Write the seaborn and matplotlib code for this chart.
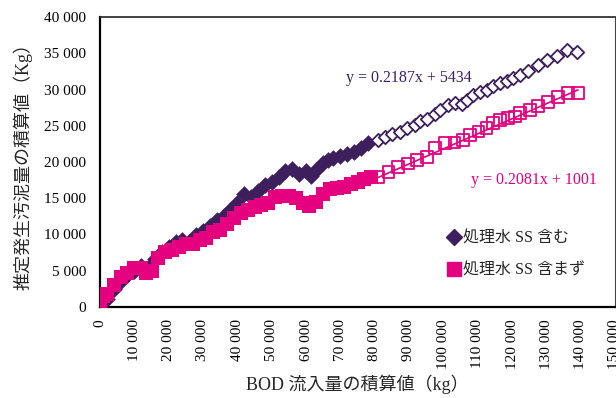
import matplotlib
matplotlib.use("Agg")
import matplotlib.pyplot as plt
import numpy as np
import pandas as pd
import seaborn as sns
from matplotlib.lines import Line2D
from matplotlib.ticker import FuncFormatter, MultipleLocator

# Cumulative BOD inflow (kg) vs. cumulative estimated sludge (kg)
# Series A: treated-water SS included
incl_x_early = [0, 2000, 4000, 6000, 8000, 10000, 12000, 14000, 16000, 18000,
                20000, 22000, 24000, 26000, 28000, 30000, 32000, 34000, 36000, 38000,
                40000, 42000, 44000, 46000, 48000, 50000, 52000, 54000, 56000, 58000,
                60000, 61500, 63000, 65000, 66500, 68000, 70000, 72000, 74000, 76000, 78000]
incl_y_early = [0, 1000, 2500, 3600, 4400, 5000, 5600, 5300, 6600, 7600,
                8300, 8900, 9200, 8900, 9900, 10500, 11200, 12000, 12500, 13400,
                14300, 15600, 15200, 16000, 16800, 17300, 17900, 18700, 19000, 18400,
                18800, 18000, 18900, 19800, 20300, 20500, 20800, 21100, 21400, 21900, 22600]
incl_x_late = [81100, 83000, 85000, 87400, 89500, 91800, 93200, 95100, 97600, 99000,
               101500, 103400, 105500, 107000, 108700, 110700, 112600, 114600, 116500, 118500,
               120400, 122300, 124800, 127700, 130100, 133000, 135900, 138800]
incl_y_late = [23000, 23500, 23900, 24200, 24700, 25100, 25600, 25900, 26700, 27200,
               27900, 28100, 28000, 28600, 29200, 29700, 30000, 30500, 30900, 31200,
               31600, 32000, 32600, 33400, 34100, 34600, 35500, 35200]

# Series B: treated-water SS excluded
excl_x_early = [0, 1000, 2000, 4000, 6000, 8000, 10000, 12000, 13500, 15000,
                17000, 19000, 21000, 23000, 25000, 27000, 29000, 31000, 33000, 35000,
                37000, 39000, 41000, 43000, 45000, 47000, 49000, 51000, 53000, 55000,
                57000, 59000, 61000, 63000, 65000, 67000, 69000, 71000, 73000, 75000,
                77000, 79000]
excl_y_early = [0, 1500, 1800, 3000, 4100, 4700, 5300, 5400, 4600, 5000,
                6800, 7500, 7900, 8200, 8600, 8700, 9200, 9500, 10300, 10600,
                11400, 12200, 13000, 13400, 13800, 14000, 14400, 15100, 15300, 15300,
                15000, 14300, 13900, 14500, 15600, 16200, 16400, 16600, 17000, 17300,
                17600, 17900]
excl_x_late = [81000, 84000, 86800, 89700, 92300, 95200, 97600, 100500, 103200, 105800,
               107800, 110200, 112600, 114500, 116500, 118900, 120900, 122300, 125300, 127600,
               130500, 133400, 136300, 139200]
excl_y_late = [17900, 18600, 19300, 19800, 20300, 20700, 21900, 22600, 22700, 23000,
               23700, 24200, 24700, 25400, 25800, 26100, 26300, 26800, 27200, 27700,
               28300, 29000, 29500, 29500]

# Linear trend coefficients (fit over the later period)
incl_slope, incl_icpt = 0.2187, 5434
excl_slope, excl_icpt = 0.2081, 1001

labels = ["処理水 SS 含む", "処理水 SS 含まず"]
xlabel = "BOD 流入量の積算値（kg）"
ylabel = "推定発生汚泥量の積算値（Kg）"

PURPLE = "#3d1f5e"
MAGENTA = "#e4007f"

sns.set_style("white")
plt.rcParams["font.family"] = ["Liberation Serif", "Noto Sans CJK JP", "DejaVu Sans"]

fig = plt.figure(figsize=(6.16, 3.98), dpi=100)
ax = fig.add_axes([100 / 616, 1 - 306.7 / 398, 515 / 616, (306.7 - 17.3) / 398])

df_ie = pd.DataFrame({"x": incl_x_early, "y": incl_y_early})
df_il = pd.DataFrame({"x": incl_x_late, "y": incl_y_late})
df_ee = pd.DataFrame({"x": excl_x_early, "y": excl_y_early})
df_el = pd.DataFrame({"x": excl_x_late, "y": excl_y_late})

# trend lines over the later period
t_incl = pd.DataFrame({"x": [min(incl_x_late), max(incl_x_late)]})
t_incl["y"] = incl_slope * t_incl["x"] + incl_icpt
t_excl = pd.DataFrame({"x": [min(excl_x_late), max(excl_x_late)]})
t_excl["y"] = excl_slope * t_excl["x"] + excl_icpt

sns.lineplot(data=t_incl, x="x", y="y", ax=ax, color=PURPLE, lw=1.2, zorder=2)
sns.lineplot(data=t_excl, x="x", y="y", ax=ax, color=MAGENTA, lw=1.2, zorder=2)

sns.scatterplot(data=df_ie, x="x", y="y", ax=ax, marker="D", s=72,
                color=PURPLE, linewidth=0, zorder=3)
sns.scatterplot(data=df_il, x="x", y="y", ax=ax, marker="D", s=46,
                facecolor="white", edgecolor=PURPLE, linewidth=1.3, zorder=3)
sns.scatterplot(data=df_ee, x="x", y="y", ax=ax, marker="s", s=88,
                color=MAGENTA, linewidth=0, zorder=4)
sns.scatterplot(data=df_el, x="x", y="y", ax=ax, marker="s", s=70,
                facecolor="none", edgecolor=MAGENTA, linewidth=1.3, zorder=4)

ax.text(90000, 31600, f"y = {incl_slope}x + {incl_icpt}", color=PURPLE,
        fontsize=11.5, ha="center", va="center")
ax.text(126500, 17500, f"y = {excl_slope}x + {excl_icpt}", color=MAGENTA,
        fontsize=11.5, ha="center", va="center")

ax.set_xlim(0, 150000)
ax.set_ylim(0, 40000)
ax.xaxis.set_major_locator(MultipleLocator(10000))
ax.yaxis.set_major_locator(MultipleLocator(5000))
fmt = FuncFormatter(lambda v, p: f"{int(v):,}".replace(",", " "))
ax.xaxis.set_major_formatter(fmt)
ax.yaxis.set_major_formatter(fmt)
ax.tick_params(axis="both", direction="in", length=4, width=1.3, labelsize=11,
               colors="black", pad=10)
ax.tick_params(axis="x", labelrotation=90, pad=9)

ax.set_xlabel(xlabel, fontsize=13, labelpad=4)
ax.set_ylabel(ylabel, fontsize=13, labelpad=8)

for side in ["left", "bottom"]:
    ax.spines[side].set_linewidth(1.6)
    ax.spines[side].set_color("black")
ax.spines["top"].set_linewidth(1.2)
ax.spines["top"].set_color("#222222")
ax.spines["right"].set_linewidth(0.8)
ax.spines["right"].set_color("#444444")

handles = [
    Line2D([], [], marker="D", ls="none", color=PURPLE, markersize=8),
    Line2D([], [], marker="s", ls="none", color=MAGENTA, markersize=10),
]
ax.legend(handles, labels, loc="upper left", bbox_to_anchor=(0.66, 0.285),
          frameon=False, fontsize=11.5, handletextpad=0.05, handlelength=1.0,
          labelspacing=1.0, borderaxespad=0)

fig.savefig("out.png", dpi=100)
